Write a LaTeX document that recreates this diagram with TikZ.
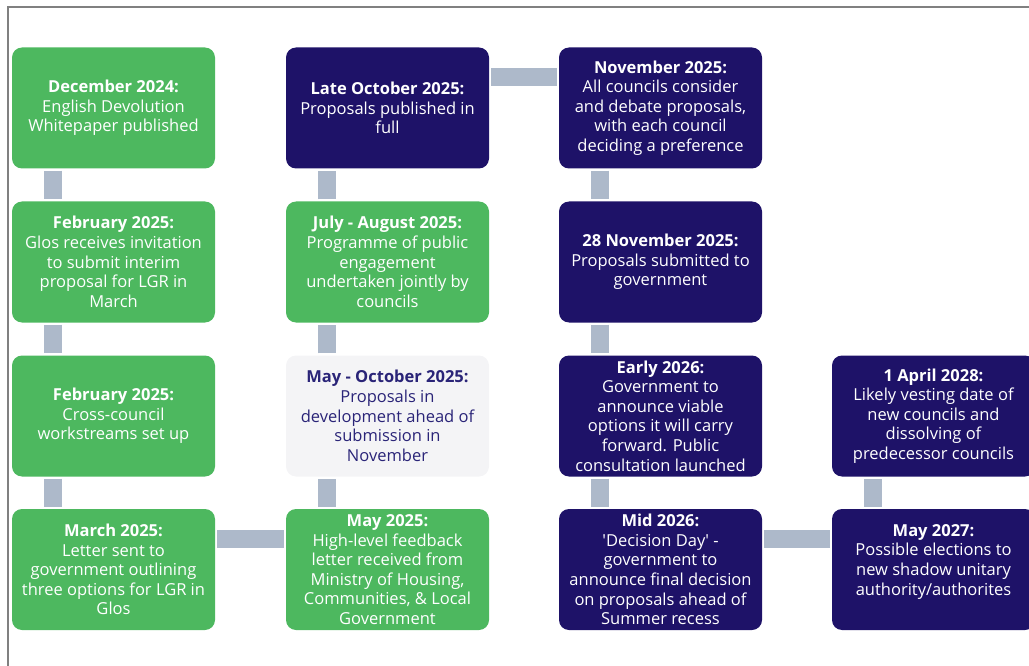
\documentclass[tikz,border=0pt]{standalone}
\usepackage{fontspec}
\setmainfont{Open Sans}
\definecolor{gbox}{HTML}{4DB85F}
\definecolor{nbox}{HTML}{1E1268}
\definecolor{lbox}{HTML}{F4F4F6}
\definecolor{ltext}{HTML}{2A2478}
\definecolor{barc}{HTML}{ADB9CA}
\definecolor{framec}{HTML}{808080}
\begin{document}
\begin{tikzpicture}[x=1pt,y=-1pt,
  card/.style={rounded corners=10pt, minimum width=203pt, minimum height=121pt,
    inner sep=0pt, align=center, font=\fontsize{16.5pt}{19.6pt}\selectfont},
  greencard/.style={card, fill=gbox, text=white},
  navycard/.style={card, fill=nbox, text=white},
  lightcard/.style={card, fill=lbox, text=ltext},
  conn/.style={draw=barc, line width=18pt, line cap=butt, shorten <=2pt, shorten >=2pt}]
\useasboundingbox (0,0) rectangle (1029,666);
\begin{scope}
\clip (0,0) rectangle (1029,666);
\draw[framec, line width=1.2pt] (8,700) -- (8,7) -- (1040,7);

\node[greencard] (dec24) at (113.5,108) {\textbf{December 2024:}\\English Devolution\\Whitepaper published};
\node[greencard] (feb25a) at (113.5,262) {\textbf{February 2025:}\\Glos receives invitation\\to submit interim\\proposal for LGR in\\March};
\node[greencard] (feb25b) at (113.5,416) {\textbf{February 2025:}\\Cross-council\\workstreams set up};
\node[greencard] (mar25) at (113.5,569.5) {\textbf{March 2025:}\\Letter sent to\\government outlining\\three options for LGR in\\Glos};

\node[greencard] (may25) at (387.5,569.5) {\textbf{May 2025:}\\High-level feedback\\letter received from\\Ministry of Housing,\\Communities, \& Local\\Government};
\node[lightcard] (mayoct) at (387.5,416) {\textbf{May - October 2025:}\\Proposals in\\development ahead of\\submission in\\November};
\node[greencard] (julaug) at (387.5,262) {\textbf{July - August 2025:}\\Programme of public\\engagement\\undertaken jointly by\\councils};
\node[navycard] (lateoct) at (387.5,108) {\textbf{Late October 2025:}\\Proposals published in\\full};

\node[navycard] (nov25) at (660.5,108) {\textbf{November 2025:}\\All councils consider\\and debate proposals,\\with each council\\deciding a preference};
\node[navycard] (nov28) at (660.5,262) {\textbf{28 November 2025:}\\Proposals submitted to\\government};
\node[navycard] (early26) at (660.5,416) {\textbf{Early 2026:}\\Government to\\announce viable\\options it will carry\\forward. Public\\consultation launched};
\node[navycard] (mid26) at (660.5,569.5) {\textbf{Mid 2026:}\\\textquotesingle Decision Day\textquotesingle\ -\\government to\\announce final decision\\on proposals ahead of\\Summer recess};

\node[navycard] (may27) at (933.5,569.5) {\textbf{May 2027:}\\Possible elections to\\new shadow unitary\\authority/authorites\\\mbox{}};
\node[navycard] (apr28) at (933.5,416) {\textbf{1 April 2028:}\\Likely vesting date of\\new councils and\\dissolving of\\predecessor councils};

\draw[conn] ([xshift=-61pt]dec24.south) -- ([xshift=-61pt]feb25a.north);
\draw[conn] ([xshift=-61pt]feb25a.south) -- ([xshift=-61pt]feb25b.north);
\draw[conn] ([xshift=-61pt]feb25b.south) -- ([xshift=-61pt]mar25.north);
\draw[conn] ([xshift=-61pt]may25.north) -- ([xshift=-61pt]mayoct.south);
\draw[conn] ([xshift=-61pt]mayoct.north) -- ([xshift=-61pt]julaug.south);
\draw[conn] ([xshift=-61pt]julaug.north) -- ([xshift=-61pt]lateoct.south);
\draw[conn] ([xshift=-60.5pt]nov25.south) -- ([xshift=-60.5pt]nov28.north);
\draw[conn] ([xshift=-60.5pt]nov28.south) -- ([xshift=-60.5pt]early26.north);
\draw[conn] ([xshift=-60.5pt]early26.south) -- ([xshift=-60.5pt]mid26.north);
\draw[conn] ([xshift=-60.5pt]may27.north) -- ([xshift=-60.5pt]apr28.south);

\draw[conn] ([yshift=31pt]mar25.east) -- ([yshift=31pt]may25.west);
\draw[conn] ([yshift=31pt]lateoct.east) -- ([yshift=31pt]nov25.west);
\draw[conn] ([yshift=31pt]mid26.east) -- ([yshift=31pt]may27.west);
\end{scope}
\end{tikzpicture}
\end{document}
